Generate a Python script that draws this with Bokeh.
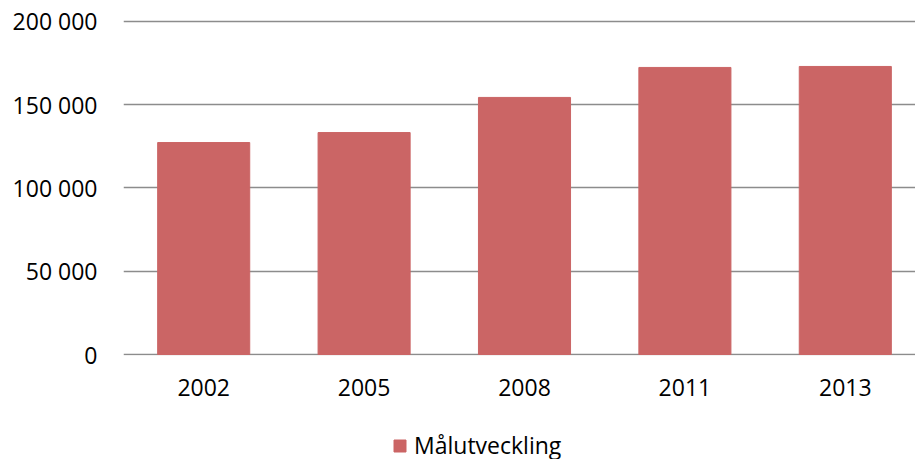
from bokeh.plotting import figure
from bokeh.layouts import column
from bokeh.models import Range1d, FixedTicker, Legend, LegendItem
from bokeh.embed import file_html
from bokeh.resources import INLINE

# Data
years = ["2002", "2005", "2008", "2011", "2013"]
values = [127300, 133300, 154400, 172400, 173000]
series_name = "Målutveckling"
y_ticks = [0, 50000, 100000, 150000, 200000]
y_tick_labels = ["0", "50 000", "100 000", "150 000", "200 000"]

bar_color = "#CB6565"
grid_color = "#8C8C8C"
font = "Open Sans"

x = list(range(len(years)))

p = figure(
    width=915, height=430,
    min_border_left=123, min_border_right=0, min_border_top=19, min_border_bottom=75,
    x_range=Range1d(-0.5, -0.5 + 792 / 160.4),
    y_range=Range1d(-600, 201200),
    output_backend="svg", toolbar_location=None,
)
p.outline_line_color = None
p.background_fill_color = "white"
p.border_fill_color = "white"

r = p.vbar(x=x, top=values, width=0.574, fill_color=bar_color, line_color=bar_color)

# y axis
p.yaxis.ticker = FixedTicker(ticks=y_ticks)
p.yaxis.major_label_overrides = {t: l for t, l in zip(y_ticks, y_tick_labels)}
p.yaxis.axis_line_color = None
p.yaxis.major_tick_line_color = None
p.yaxis.minor_tick_line_color = None
p.yaxis.major_tick_out = 0
p.yaxis.major_label_standoff = 26
p.yaxis.major_label_text_font = font
p.yaxis.major_label_text_font_size = "23px"
p.yaxis.major_label_text_color = "#000000"

# x axis
p.xaxis.ticker = FixedTicker(ticks=x)
p.xaxis.major_label_overrides = {i: y for i, y in zip(x, years)}
p.xaxis.axis_line_color = None
p.xaxis.major_tick_line_color = None
p.xaxis.minor_tick_line_color = None
p.xaxis.major_tick_out = 0
p.xaxis.major_label_standoff = 23
p.xaxis.major_label_text_font = font
p.xaxis.major_label_text_font_size = "23px"
p.xaxis.major_label_text_color = "#000000"

p.xgrid.grid_line_color = None
p.ygrid.ticker = FixedTicker(ticks=y_ticks)
p.ygrid.grid_line_color = grid_color
p.ygrid.grid_line_width = 1.5

# Legend strip below the chart (its frame is aligned with the chart's frame)
p2 = figure(
    width=915, height=40,
    min_border_left=0, min_border_right=0, min_border_top=0, min_border_bottom=0,
    x_range=Range1d(-100, -99), y_range=Range1d(0, 1),
    x_axis_type=None, y_axis_type=None,
    output_backend="svg", toolbar_location=None,
)
p2.outline_line_color = None
p2.xgrid.grid_line_color = None
p2.ygrid.grid_line_color = None
r2 = p2.vbar(x=x, top=values, width=0.574, fill_color=bar_color, line_color=bar_color)

legend = Legend(
    items=[LegendItem(label=series_name, renderers=[r2])],
    location=(269, 9),
    orientation="horizontal",
    border_line_color=None,
    background_fill_alpha=0,
    padding=0, margin=0,
    glyph_width=15, glyph_height=15,
    label_standoff=7,
    label_text_font=font,
    label_text_font_size="23px",
    label_text_color="#000000",
    label_height=15,
)
p2.add_layout(legend, "center")

layout = column(p, p2, spacing=0)
open("out.html", "w").write(file_html(layout, INLINE))
